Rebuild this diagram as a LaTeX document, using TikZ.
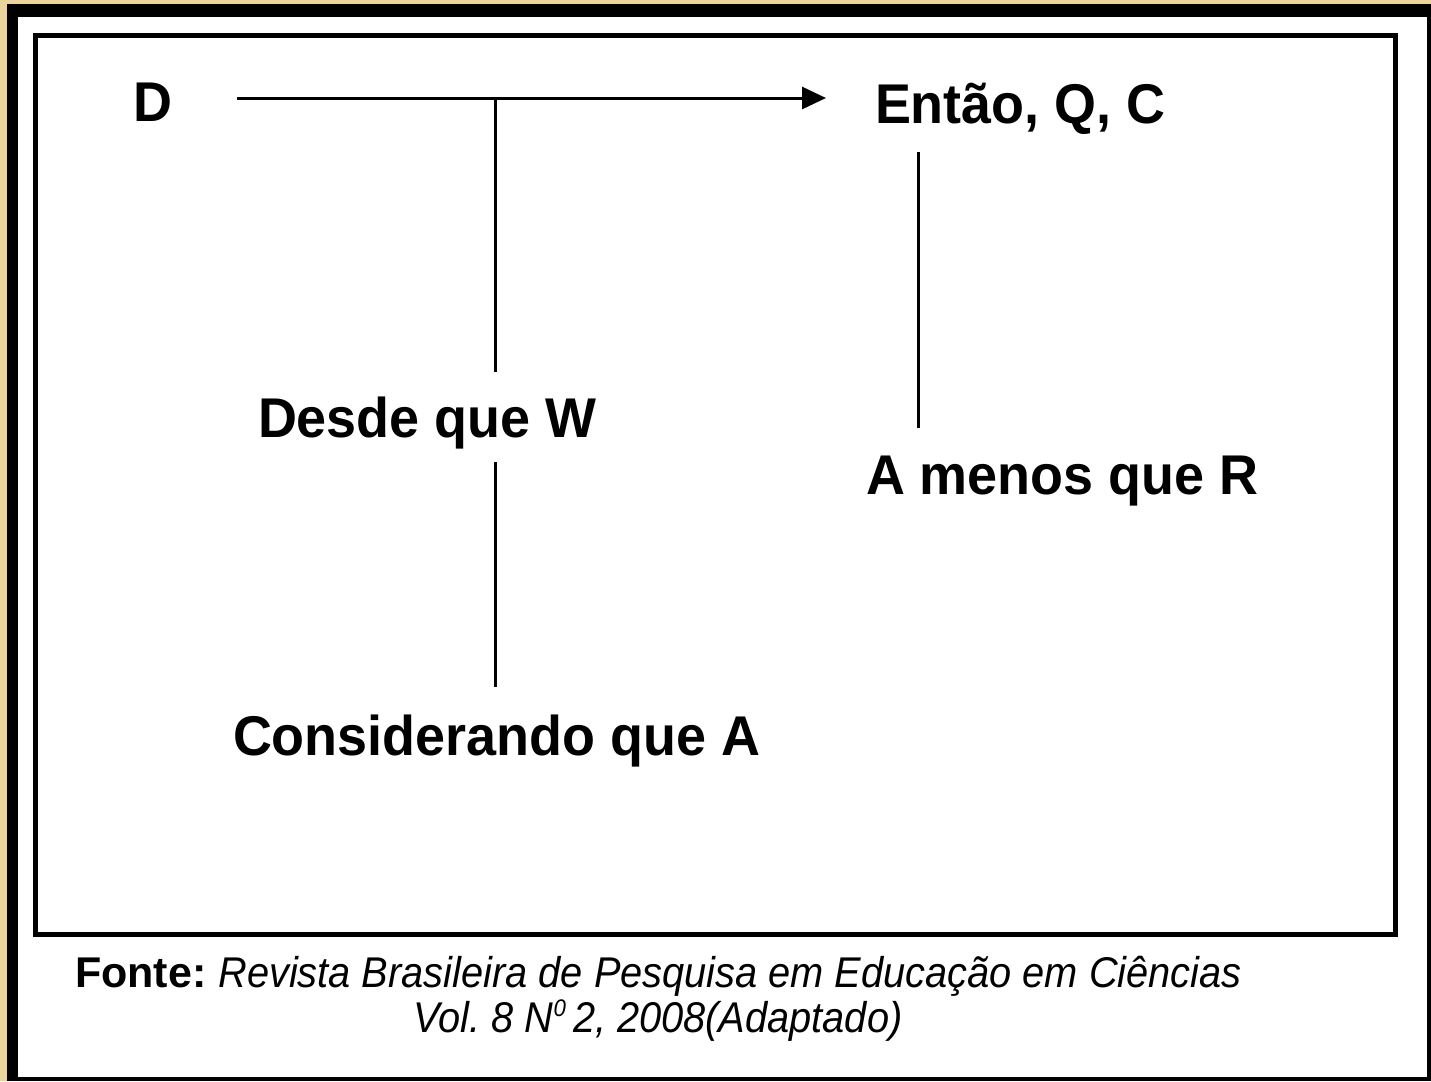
\documentclass[tikz,border=0pt]{standalone}
\usepackage{fontspec}
\setmainfont{Liberation Sans}
\newfontfamily\lblfont[FakeStretch=0.963]{Liberation Sans}
\newfontfamily\capfont[FakeStretch=0.925]{Liberation Sans}
\usetikzlibrary{arrows.meta}
\definecolor{gold}{HTML}{E9D39E}
\frenchspacing
\begin{document}
\begin{tikzpicture}[x=1bp,y=-1bp,
  lbl/.style={inner sep=0pt,outer sep=0pt,anchor=base west,font=\lblfont\fontsize{56bp}{60bp}\selectfont\bfseries},
  captxt/.style={inner sep=0pt,outer sep=0pt,font=\fontsize{43bp}{48bp}\selectfont},
  conn/.style={line width=3bp,black},
  arr/.style={conn,-{Triangle[length=24bp,width=22bp]}}]
\useasboundingbox (0,0) rectangle (1431,1081);
% outer frame
\fill[gold] (0,0) rectangle (1431,1081);
\fill[black] (7,4) rectangle (1431,1081);
\fill[white] (18,17) rectangle (1427,1077);
% inner box
\draw[line width=5bp] (35,35.5) rectangle (1395.5,934);
% labels
\node[lbl] (D) at (133,121) {D};
\node[lbl] (entao) at (875,123) {Então, Q, C};
\node[lbl] (desde) at (258,437) {Desde que W};
\node[lbl] (amenos) at (866,494) {A menos que R};
\node[lbl] (consid) at (233,755) {Considerando que A};
% connectors
\coordinate (a0) at (237,98);
\coordinate (a1) at (826,98);
\coordinate (j) at (495,98);
\coordinate (w0) at (495,372);
\coordinate (w1) at (495,462);
\coordinate (c0) at (495,687);
\coordinate (q0) at (918,152);
\coordinate (r0) at (918,428);
\draw[arr] (a0) -- (a1);
\draw[conn] (j) -- (w0);
\draw[conn] (w1) -- (c0);
\draw[conn] (q0) -- (r0);
% caption
\node[captxt,anchor=base west] (fonte) at (75,987) {\textbf{Fonte:} {\capfont\itshape Revista Brasileira de Pesquisa em Educação em Ciências}};
\node[captxt,anchor=base] (vol) at (658,1032) {\capfont\itshape Vol. 8 N\raisebox{0.36em}{\fontsize{24bp}{24bp}\selectfont 0}\,2, 2008(Adaptado)};
\end{tikzpicture}
\end{document}
